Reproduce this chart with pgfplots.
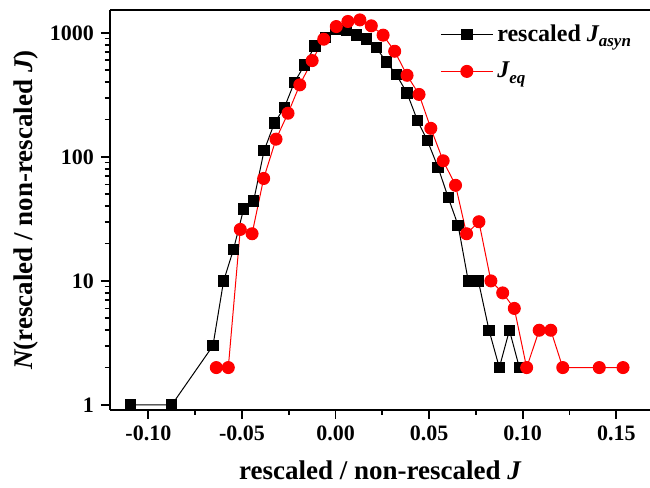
\documentclass[border=0pt]{standalone}
\usepackage{fontspec}
\setmainfont{Liberation Serif}
\usepackage{pgfplots}
\pgfplotsset{compat=1.18}
\pgfplotstableread{
x y
-0.1095 1
-0.0875 1
-0.0655 3
-0.0598 10
-0.0545 18
-0.0491 38
-0.0438 44
-0.0382 112
-0.0327 187
-0.0273 251
-0.0220 399
-0.0166 549
-0.0110 785
-0.0054 920
0.0003 1070
0.0057 1045
0.0112 963
0.0166 895
0.0218 760
0.0271 584
0.0325 460
0.0382 327
0.0438 196
0.0491 135
0.0548 82
0.0602 47
0.0655 28
0.0709 10
0.0763 10
0.0820 4
0.0875 2
0.0929 4
0.0982 2
}\asyn
\pgfplotstableread{
x y
-0.0637 2
-0.0573 2
-0.0509 26
-0.0446 24
-0.0384 67
-0.0318 139
-0.0254 225
-0.0191 381
-0.0125 598
-0.0063 889
0.0004 1125
0.0066 1236
0.0130 1273
0.0191 1140
0.0254 959
0.0316 711
0.0382 455
0.0446 319
0.0509 170
0.0575 93
0.0641 59
0.0700 24
0.0766 30
0.0830 10
0.0893 8
0.0955 6
0.1021 2
0.1088 4
0.1150 4
0.1214 2
0.1409 2
0.1536 2
}\eq
\begin{document}
\begin{tikzpicture}
\begin{semilogyaxis}[
  scale only axis,
  width=270pt, height=200pt,
  xmin=-0.1205, xmax=0.168,
  ymin=0.91, ymax=1530,
  axis y line*=left,
  axis line style={line width=1.3pt},
  xtick={-0.10,-0.05,0,0.05,0.10,0.15},
  xticklabels={-0.10,-0.05,0.00,0.05,0.10,0.15},
  minor x tick num=1,
  ytick={1,10,100,1000},
  yticklabels={1,10,100,1000},
  extra y ticks={2,3,4,5,6,7,8,9,20,30,40,50,60,70,80,90,200,300,400,500,600,700,800,900},
  extra y tick labels={},
  extra y tick style={major tick length=2.5pt},
  tick align=outside,
  xtick pos=bottom,
  major tick length=4.5pt,
  minor tick length=2.5pt,
  every tick/.style={black, line width=0.9pt},
  tick label style={font=\fontsize{11}{13}\selectfont\bfseries},
  label style={font=\fontsize{13.5}{16}\selectfont\bfseries},
  xlabel={rescaled / non-rescaled {\itshape J}},
  ylabel={{\itshape N}(rescaled / non-rescaled {\itshape J})},
  xlabel style={yshift=-3pt},
  ylabel style={yshift=-8pt},
  legend style={at={(0.611,0.975)}, anchor=north west, draw=none, fill=none,
    font=\fontsize{12}{14}\selectfont\bfseries, inner sep=0pt,
    row sep=5pt},
  legend cell align=left,
  legend image code/.code={\draw[mark repeat=2,mark phase=2,#1] plot coordinates {(0pt,0pt) (13pt,0pt) (26pt,0pt)};},
]
\addplot[black, line width=0.5pt, mark=square*, mark size=2.6pt, mark options={solid}] table {\asyn};
\addlegendentry{rescaled {\itshape J}\raisebox{-0.5ex}{\fontsize{8.5}{9}\selectfont\itshape asyn}}
\addplot[red, line width=0.5pt, mark=*, mark size=3pt, mark options={solid, fill=red}] table {\eq};
\addlegendentry{{\itshape J}\raisebox{-0.5ex}{\fontsize{8.5}{9}\selectfont\itshape eq}}
\end{semilogyaxis}
\pgfresetboundingbox
\path[use as bounding box] ([xshift=-55pt,yshift=-39pt]current axis.south west) rectangle ([yshift=5pt]current axis.north east);
\end{tikzpicture}
\end{document}
